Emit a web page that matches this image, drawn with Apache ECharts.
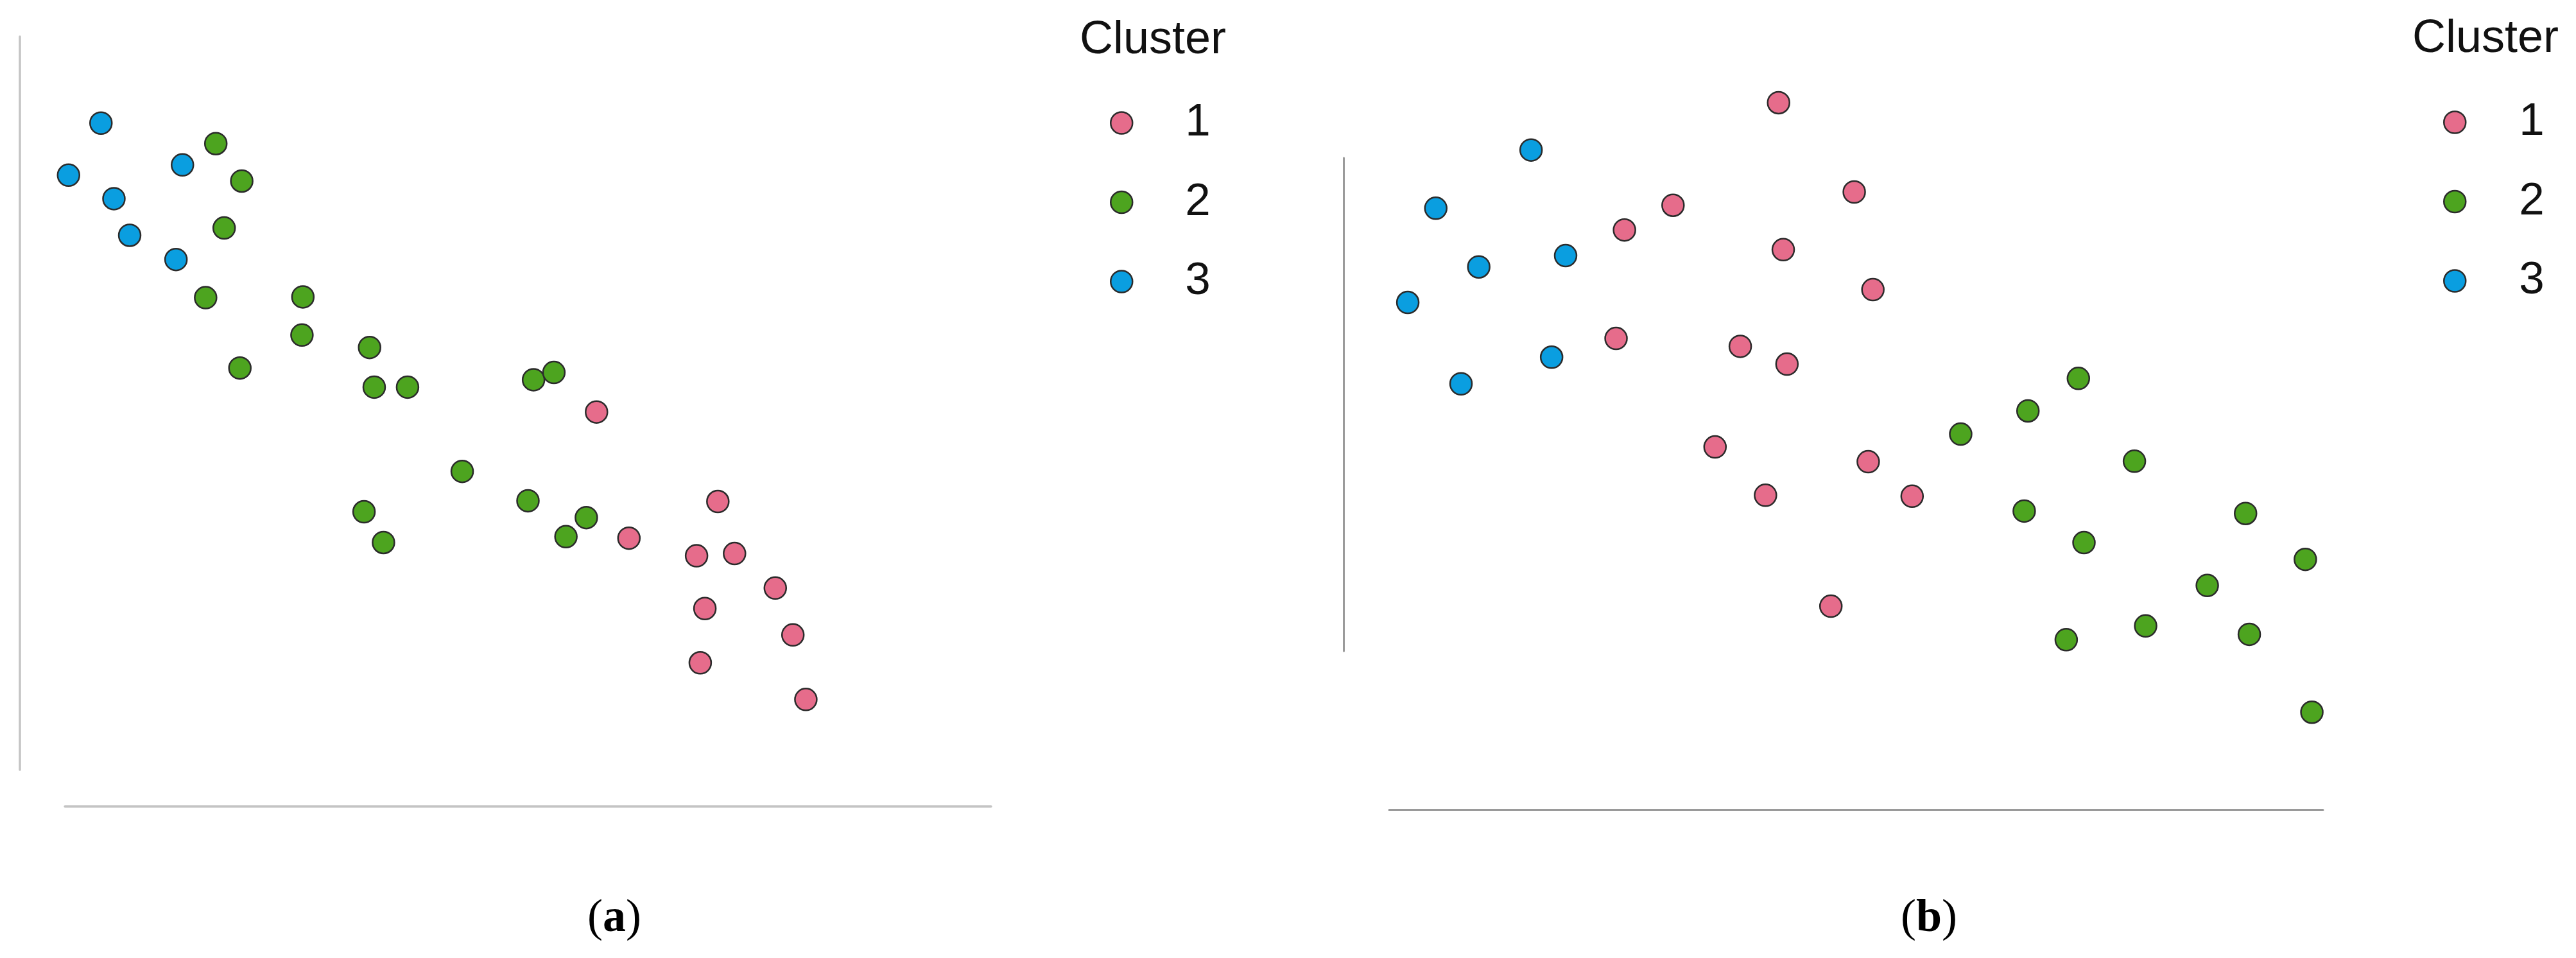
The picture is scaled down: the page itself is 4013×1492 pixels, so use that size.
<!DOCTYPE html>
<html>
<head>
<meta charset="utf-8">
<script src="https://cdn.jsdelivr.net/npm/echarts@6/dist/echarts.min.js"></script>
<style>
html,body{margin:0;padding:0;background:#fff;}
#chart{width:4013px;height:1492px;}
</style>
</head>
<body>
<div id="chart"></div>
<script>
// Cluster names and colours
const clusterNames = ['1', '2', '3'];
const clusterColors = ['#E66C8B', '#4DA41F', '#0A9EE0'];
const legendTitle = 'Cluster';
const captionLetters = ['a', 'b'];

// Panel (a) points [x, y] on a 0–100 scale
const a_cluster1 = [[57.4,48.8],[60.9,31.6],[70.5,36.6],[68.2,29.2],[72.3,29.5],[76.7,24.8],[69.1,22.0],[78.6,18.4],[68.6,14.6],[80.0,9.6]];
const a_cluster2 = [[16.3,85.4],[19.1,80.3],[17.2,73.9],[15.2,64.4],[25.7,64.5],[25.6,59.3],[18.9,54.8],[32.9,57.6],[33.4,52.2],[37.0,52.2],[50.6,53.2],[52.8,54.2],[42.9,40.7],[32.3,35.2],[34.4,31.0],[50.0,36.7],[56.3,34.4],[54.1,31.8]];
const a_cluster3 = [[3.9,88.2],[0.4,81.1],[12.7,82.5],[5.3,77.9],[7.0,72.9],[12.0,69.6]];

// Panel (b) points [x, y] on a 0–100 scale
const b_cluster1 = [[41.7,111.2],[49.8,93.1],[30.4,90.4],[25.2,85.4],[42.2,81.4],[51.8,73.3],[24.3,63.4],[37.6,61.8],[42.6,58.2],[34.9,41.4],[51.3,38.4],[40.3,31.6],[56.0,31.4],[47.3,9.1]];
const b_cluster2 = [[73.8,55.3],[68.4,48.7],[61.2,44.0],[79.8,38.5],[68.0,28.4],[91.7,27.9],[74.4,22.0],[98.1,18.6],[87.6,13.3],[72.5,2.3],[81.0,5.1],[92.1,3.4],[98.8,-12.4]];
const b_cluster3 = [[15.2,101.6],[5.0,89.8],[9.6,77.9],[18.9,80.2],[2.0,70.7],[17.4,59.6],[7.7,54.2]];

const axisMin = 0, axisMax = 100;

const panelA = [a_cluster1, a_cluster2, a_cluster3];
const panelB = [b_cluster1, b_cluster2, b_cluster3];

function mkSeries(data, idx, k) {
  return {
    type: 'scatter',
    name: clusterNames[k],
    xAxisIndex: idx, yAxisIndex: idx,
    data: data,
    symbol: 'circle',
    symbolSize: 34,
    clip: false,
    itemStyle: { color: clusterColors[k], borderColor: '#2b2b2b', borderWidth: 2.5, opacity: 1 },
    emphasis: { disabled: true }
  };
}

const series = [];
panelA.forEach((d, k) => series.push(mkSeries(d, 0, k)));
panelB.forEach((d, k) => series.push(mkSeries(d, 1, k)));

function mkAxis(gridIndex, pos, offset, color, width) {
  return {
    type: 'value', gridIndex: gridIndex, position: pos, offset: offset,
    min: axisMin, max: axisMax,
    axisLine: { show: true, onZero: false, lineStyle: { color: color, width: width } },
    axisTick: { show: false }, axisLabel: { show: false }, splitLine: { show: false }
  };
}

function mkLegend(left, top, pad) {
  return {
    orient: 'vertical', left: left, top: top, padding: 0,
    itemWidth: 34, itemHeight: 34, itemGap: 52.5,
    selectedMode: false,
    data: clusterNames.map((n, k) => ({
      name: n, icon: 'circle',
      itemStyle: { color: clusterColors[k], borderColor: '#2b2b2b', borderWidth: 2.5 }
    })),
    textStyle: { fontFamily: 'Liberation Sans, Arial, sans-serif', fontSize: 71, color: '#111',
                 lineHeight: 70, padding: [0, 0, 0, pad] }
  };
}

function caption(letter, x) {
  return {
    type: 'text', x: x, y: 1431,
    style: {
      text: '{p|(}{b|' + letter + '}{p|)}',
      align: 'center', verticalAlign: 'middle',
      rich: {
        p: { fontFamily: 'Liberation Serif, Times New Roman, serif', fontSize: 72, fill: '#000', color: '#000' },
        b: { fontFamily: 'Liberation Serif, Times New Roman, serif', fontSize: 72, fontWeight: 'bold', fill: '#000', color: '#000' }
      }
    }
  };
}

function titleText(x, y) {
  return { type: 'text', x: x, y: y,
    style: { text: legendTitle, font: '72px "Liberation Sans", Arial, sans-serif', fill: '#111', verticalAlign: 'middle', align: 'left' } };
}

const option = {
  animation: false,
  backgroundColor: '#ffffff',
  grid: [
    { left: 101, top: 57, width: 1443, height: 1142 },
    { left: 2164, top: 246, width: 1455, height: 768 }
  ],
  xAxis: [
    mkAxis(0, 'bottom', 57, '#c4c4c4', 3.5),
    mkAxis(1, 'bottom', 247, '#9a9a9a', 3)
  ],
  yAxis: [
    mkAxis(0, 'left', 70, '#c4c4c4', 3.5),
    mkAxis(1, 'left', 71, '#9a9a9a', 3)
  ],
  legend: [ mkLegend(1729, 156, 77), mkLegend(3806, 155, 78) ],
  graphic: [
    titleText(1682, 63),
    titleText(3758, 61),
    caption(captionLetters[0], 957),
    caption(captionLetters[1], 3005)
  ],
  series: series
};

const chart = echarts.init(document.getElementById('chart'), null, { renderer: 'canvas' });
chart.setOption(option);
</script>
</body>
</html>
